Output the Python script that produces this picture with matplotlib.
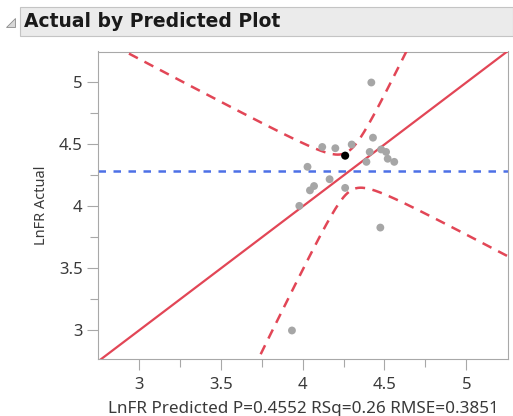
import numpy as np
import matplotlib
matplotlib.use("Agg")
import matplotlib.pyplot as plt
from matplotlib.patches import Rectangle, Polygon

# values
pred = [4.42, 4.43, 4.12, 4.20, 4.30, 4.41, 4.48, 4.51, 4.52, 4.56,
        4.39, 4.03, 4.165, 4.07, 4.045, 4.26, 3.98, 4.475, 3.935]
actual = [5.00, 4.555, 4.48, 4.47, 4.50, 4.44, 4.46, 4.44, 4.385, 4.36,
          4.36, 4.32, 4.22, 4.165, 4.13, 4.15, 4.005, 3.83, 3.00]
sel_pred = [4.26]
sel_actual = [4.41]

xticks = [3, 3.5, 4, 4.5, 5]
yticks = [3, 3.5, 4, 4.5, 5]
xlim = (2.75, 5.255)
ylim = (2.77, 5.25)

# confidence curve parameters (hyperbola around the y=x line)
conf_center = 4.285
conf_halfwidth = 0.165
conf_slope = 1.7

title = "Actual by Predicted Plot"
xlabel = "LnFR Predicted P=0.4552 RSq=0.26 RMSE=0.3851"
ylabel = "LnFR Actual"

red = "#e24656"
blue = "#4d70e6"
gray_pt = "#a6a6a6"
frame = "#a8a8a8"

plt.rcParams['font.family'] = ['Noto Sans', 'DejaVu Sans']

fig = plt.figure(figsize=(5.13, 4.16), dpi=100)
fig.patch.set_facecolor("white")

# title bar
fig.patches.append(Rectangle((20 / 513, 1 - 36 / 416), 493 / 513, 29 / 416,
                             transform=fig.transFigure, facecolor="#ebebeb",
                             edgecolor="#c4c4c4", linewidth=0.8))
fig.patches.append(Polygon([(6 / 513, 1 - 27 / 416), (15 / 513, 1 - 27 / 416),
                            (15 / 513, 1 - 18 / 416)], closed=True,
                           transform=fig.transFigure, facecolor="#d8d8d8",
                           edgecolor="#8c8c8c", linewidth=0.6))
fig.text(24 / 513, 1 - 21.5 / 416, title, fontsize=13.5, fontweight="bold",
         color="#1a1a1a", va="center", ha="left", family=['DejaVu Sans'])

ax = fig.add_axes([98 / 513, 1 - 359 / 416, 410 / 513, 307.5 / 416])

xs = np.linspace(xlim[0], xlim[1], 400)
ax.plot(xlim, xlim, color=red, linewidth=1.6, zorder=3)
spread = np.sqrt(conf_halfwidth ** 2 + conf_slope ** 2 * (xs - conf_center) ** 2)
ax.plot(xs, xs + spread, color=red, linewidth=1.8, linestyle=(0, (4, 3)), zorder=3)
ax.plot(xs, xs - spread, color=red, linewidth=1.8, linestyle=(0, (4, 3)), zorder=3)
ax.axhline(np.mean(actual + sel_actual), color=blue, linewidth=1.8,
           linestyle=(0, (3, 3)), zorder=2)

ax.scatter(pred, actual, s=32, color=gray_pt, edgecolors="none", zorder=4)
ax.scatter(sel_pred, sel_actual, s=34, color="black", edgecolors="none", zorder=5)

ax.set_xlim(xlim)
ax.set_ylim(ylim)
ax.set_xticks(xticks)
ax.set_yticks(yticks)
ax.set_xticklabels([f"{v:g}" for v in xticks])
ax.set_yticklabels([f"{v:g}" for v in yticks])
ax.set_xticks(np.arange(3.25, 5.25, 0.5), minor=True)
ax.set_yticks(np.arange(3.25, 5.25, 0.5), minor=True)
ax.tick_params(which="both", direction="out", color=frame, labelcolor="#3a3a3a",
               labelsize=12, length=8, width=0.8)
ax.tick_params(which="minor", length=6)
ax.tick_params(axis="x", pad=5)
ax.tick_params(axis="y", pad=3)
for s in ax.spines.values():
    s.set_color(frame)
    s.set_linewidth(0.8)

ax.set_xlabel(xlabel, fontsize=12.3, color="#3a3a3a", labelpad=6)
ax.set_ylabel(ylabel, fontsize=10.5, color="#3a3a3a", labelpad=7)

fig.savefig("out.png", dpi=100)
